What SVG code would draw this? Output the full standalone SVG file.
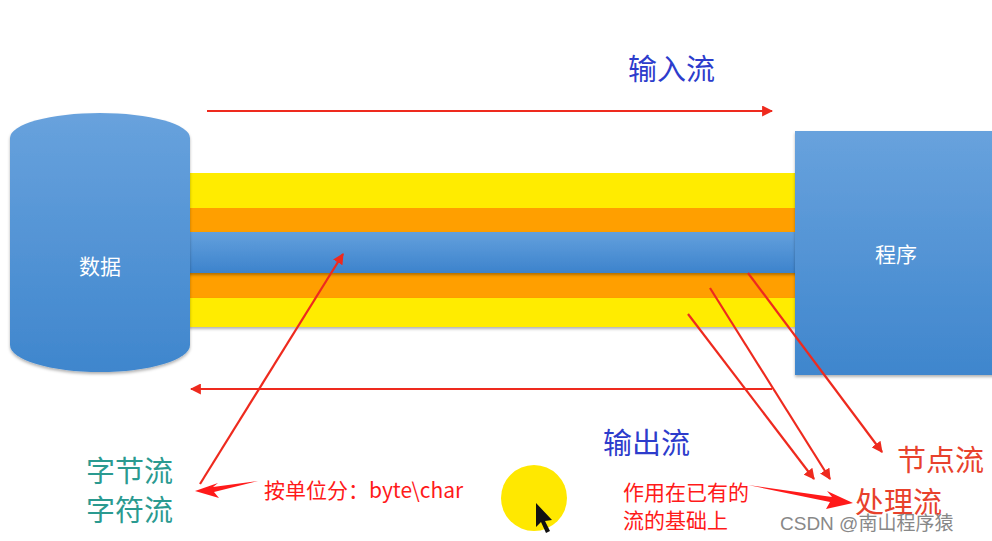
<svg xmlns="http://www.w3.org/2000/svg" width="992" height="541" viewBox="0 0 992 541">
<defs>
<linearGradient id="bl" x1="0" y1="0" x2="0" y2="1">
<stop offset="0" stop-color="#68a2dd"/>
<stop offset="1" stop-color="#3f86cd"/>
</linearGradient>
<linearGradient id="band" x1="0" y1="0" x2="0" y2="1">
<stop offset="0" stop-color="#63a0dd"/>
<stop offset="1" stop-color="#3d83cc"/>
</linearGradient>
<marker id="ah" viewBox="0 0 10 10" refX="9" refY="5" markerWidth="5" markerHeight="5" orient="auto">
<path d="M0,0 L10,5 L0,10 z" fill="#ee2a1e"/>
</marker>
<filter id="sh" x="-10%" y="-10%" width="120%" height="130%">
<feDropShadow dx="0" dy="2" stdDeviation="1.5" flood-color="#000" flood-opacity="0.3"/>
</filter>
</defs>
<style>
.ln{stroke:#ee2a1e;stroke-width:2.2;fill:none}
.wt{font-family:"Noto Sans CJK SC","Noto Sans",sans-serif;font-size:21px;fill:#fff;text-anchor:middle}
.bt{font-family:"Noto Sans CJK SC",sans-serif;font-size:29px;fill:#2d3ccc}
.tl{font-family:"Noto Sans CJK SC",sans-serif;font-size:29px;fill:#2a9a90}
.rd{font-family:"Noto Sans CJK SC","Liberation Sans",sans-serif;font-size:21px;fill:#ff1a1a}
.rk{font-family:"Noto Sans CJK SC",sans-serif;font-size:29px;fill:#e8412c}
</style>
<rect width="992" height="541" fill="#fff"/>

<g id="pipe">
<rect x="188" y="173" width="608" height="36" fill="#ffec00"/>
<rect x="188" y="208" width="608" height="25" fill="#ff9f00"/>
<rect x="188" y="273" width="608" height="25" fill="#ff9f00" filter="url(#sh)"/>
<rect x="188" y="298" width="608" height="29" fill="#ffec00" filter="url(#sh)"/>
<rect x="188" y="232" width="610" height="41" fill="url(#band)" filter="url(#sh)"/>
</g>

<g id="data">
<path d="M10,138 A90,25 0 0 1 190,138 L190,345 A90,27 0 0 1 10,345 Z" fill="url(#bl)" filter="url(#sh)"/>
<text class="wt" x="100" y="274">数据</text>
</g>

<g id="program">
<rect x="795" y="131" width="200" height="244" fill="url(#bl)" filter="url(#sh)"/>
<text class="wt" x="896" y="262">程序</text>
</g>

<g id="connectors">
<line class="ln" x1="207" y1="111" x2="772" y2="111" marker-end="url(#ah)"/>
<line class="ln" x1="772" y1="389" x2="191" y2="389" marker-end="url(#ah)"/>
<line class="ln" x1="200" y1="484" x2="343" y2="254" marker-end="url(#ah)"/>
<line class="ln" x1="688" y1="314" x2="814" y2="479" marker-end="url(#ah)"/>
<line class="ln" x1="710" y1="288" x2="830" y2="479" marker-end="url(#ah)"/>
<line class="ln" x1="748" y1="273" x2="882" y2="452" marker-end="url(#ah)"/>
<path d="M258,481 L213,487 L218,483 L195,491 L219,498 L214,492 Z" fill="#ff1a1a"/>
<path d="M748,485 L832,497 L827,491 L853,503 L826,509 L830,502 Z" fill="#ff1a1a"/>
</g>

<g id="labels">
<text class="bt" x="628" y="80">输入流</text>
<text class="bt" x="603" y="454">输出流</text>
<text class="tl" x="86" y="482">字节流</text>
<text class="tl" x="86" y="521">字符流</text>
<text class="rd" x="264" y="498">按单位分：byte\char</text>
<text class="rd" x="623" y="500">作用在已有的</text>
<text class="rd" x="623" y="528">流的基础上</text>
<text class="rk" x="897" y="471">节点流</text>
<text class="rk" x="855" y="513">处理流</text>
<text x="780" y="530" font-family="Liberation Sans,Noto Sans CJK SC,sans-serif" font-size="19" fill="#888">CSDN @南山程序猿</text>
</g>

<g id="cursor">
<circle cx="534" cy="498" r="33" fill="#ffe800"/>
<path d="M536,503 L536,527 L541,522 L546,533 L550,531 L545,521 L552,520 Z" fill="#111"/>
</g>
</svg>
